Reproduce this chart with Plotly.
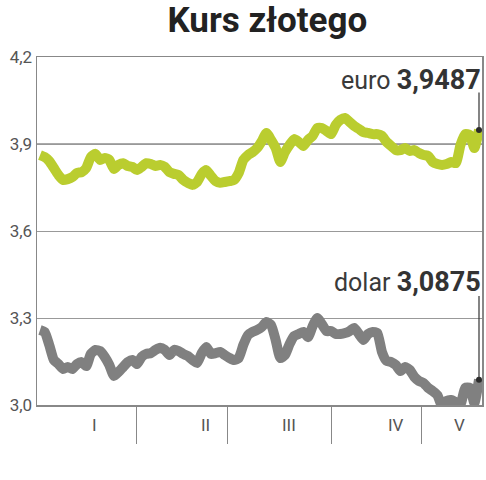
import plotly.graph_objects as go

# --- data ---
euro = [3.862, 3.855, 3.841, 3.817, 3.793, 3.776, 3.779, 3.786, 3.800, 3.803,
        3.817, 3.855, 3.866, 3.845, 3.852, 3.845, 3.814, 3.828, 3.834, 3.824,
        3.821, 3.810, 3.821, 3.834, 3.831, 3.824, 3.828, 3.821, 3.803, 3.797,
        3.793, 3.776, 3.766, 3.759, 3.769, 3.797, 3.810, 3.790, 3.772, 3.766,
        3.769, 3.772, 3.776, 3.800, 3.845, 3.862, 3.872, 3.886, 3.910, 3.938,
        3.914, 3.886, 3.838, 3.872, 3.897, 3.917, 3.907, 3.893, 3.914, 3.928,
        3.955, 3.955, 3.945, 3.934, 3.966, 3.983, 3.990, 3.976, 3.962, 3.952,
        3.941, 3.938, 3.934, 3.934, 3.928, 3.907, 3.893, 3.879, 3.879, 3.886,
        3.876, 3.879, 3.869, 3.862, 3.859, 3.838, 3.831, 3.828, 3.831, 3.838,
        3.834, 3.897, 3.934, 3.931, 3.886, 3.9487]

dolar = [3.259, 3.252, 3.207, 3.155, 3.141, 3.124, 3.131, 3.124, 3.141, 3.148,
         3.134, 3.176, 3.190, 3.186, 3.166, 3.138, 3.100, 3.114, 3.131, 3.148,
         3.155, 3.141, 3.166, 3.176, 3.179, 3.190, 3.197, 3.190, 3.172, 3.190,
         3.186, 3.176, 3.169, 3.155, 3.145, 3.179, 3.200, 3.176, 3.179, 3.183,
         3.172, 3.162, 3.155, 3.162, 3.207, 3.241, 3.252, 3.259, 3.269, 3.286,
         3.276, 3.224, 3.162, 3.172, 3.210, 3.238, 3.245, 3.252, 3.234, 3.272,
         3.300, 3.279, 3.255, 3.255, 3.245, 3.245, 3.248, 3.255, 3.266, 3.245,
         3.224, 3.245, 3.252, 3.248, 3.183, 3.152, 3.148, 3.138, 3.117, 3.131,
         3.121, 3.097, 3.083, 3.076, 3.059, 3.048, 3.034, 2.997, 3.014, 3.017,
         3.010, 3.003, 3.059, 3.059, 3.007, 3.0875]

days = list(range(len(euro)))

month_labels = ["I", "II", "III", "IV", "V"]
month_label_pos = [11.7, 35.9, 53.9, 77.0, 90.7]
month_bounds = [20.8, 40.5, 63.0, 82.5]

y_ticks = [3.0, 3.3, 3.6, 3.9, 4.2]

euro_label = "euro"
euro_value_text = "3,9487"
dolar_label = "dolar"
dolar_value_text = "3,0875"

GREEN = "#bacd2f"
GREY = "#808080"
FONT = "Roboto"

fig = go.Figure()

fig.add_trace(go.Scatter(x=days, y=dolar, mode="lines",
                         line=dict(color=GREY, width=10, shape="spline", smoothing=0.5),
                         hoverinfo="skip", showlegend=False))
fig.add_trace(go.Scatter(x=days, y=euro, mode="lines",
                         line=dict(color=GREEN, width=10, shape="spline", smoothing=0.5),
                         hoverinfo="skip", showlegend=False))

last = days[-1]
# leader lines
fig.add_shape(type="line", xref="x", yref="y", x0=last, x1=last, y0=euro[-1], y1=4.078,
              line=dict(color="#333333", width=1.2), layer="above")
fig.add_shape(type="line", xref="x", yref="y", x0=last, x1=last, y0=dolar[-1], y1=3.376,
              line=dict(color="#333333", width=1.2), layer="above")

fig.add_trace(go.Scatter(x=[last, last], y=[euro[-1], dolar[-1]], mode="markers",
                         marker=dict(color="#2b2b2b", size=6),
                         hoverinfo="skip", showlegend=False, cliponaxis=False))

# darker 3,9 line
fig.add_shape(type="line", xref="paper", yref="y", x0=0, x1=1, y0=3.9, y1=3.9,
              line=dict(color="#555555", width=1), layer="below")

def value_label(name, value, yv):
    fig.add_annotation(
        xref="paper", yref="y", x=1.0, y=yv, xanchor="right", yanchor="middle",
        showarrow=False, borderpad=0,
        text=f"<span style='font-size:25px;color:#3a3a3a'>{name}</span>&nbsp;"
             f"<b><span style='font-size:27px;color:#333'>{value}</span></b>",
        font=dict(family=FONT, size=25, color="#3a3a3a"))

value_label(euro_label, euro_value_text, 4.121)
value_label(dolar_label, dolar_value_text, 3.424)

for lab, pos in zip(month_labels, month_label_pos):
    fig.add_annotation(xref="x", yref="paper", x=pos, y=-0.058, text=lab,
                       showarrow=False, xanchor="center", yanchor="middle",
                       font=dict(family=FONT, size=17, color="#555555"))

fig.update_layout(
    width=486, height=480,
    margin=dict(l=37, r=4, t=57, b=75, autoexpand=False),
    paper_bgcolor="white", plot_bgcolor="white",
    separators=",.",
    title=dict(text="<b>Kurs złotego</b>", x=0.55, xanchor="center",
               y=0.958, yanchor="middle",
               font=dict(family=FONT, size=35, color="#222222")),
    font=dict(family=FONT, color="#444444"),
    showlegend=False,
)

fig.update_xaxes(range=[-0.65, 95.65], showgrid=False, zeroline=False,
                 showline=True, linecolor="#888888", linewidth=1.5, mirror=True,
                 tickmode="array", tickvals=month_bounds, ticktext=["" for _ in month_bounds],
                 ticks="outside", ticklen=37, tickwidth=1.2, tickcolor="#888888",
                 showticklabels=False, automargin=False)
fig.update_yaxes(range=[3.0, 4.2], tickmode="array", tickvals=y_ticks,
                 tickformat=".1f", showgrid=True, gridcolor="#999999", gridwidth=1,
                 zeroline=False, showline=True, linecolor="#888888", linewidth=1.5,
                 mirror=True, ticks="", automargin=False,
                 tickfont=dict(family=FONT, size=17, color="#555555"))

fig.write_html("out.html", config={"displayModeBar": False, "staticPlot": True},
               post_script="document.body.style.margin='0';document.body.style.overflow='hidden';")
